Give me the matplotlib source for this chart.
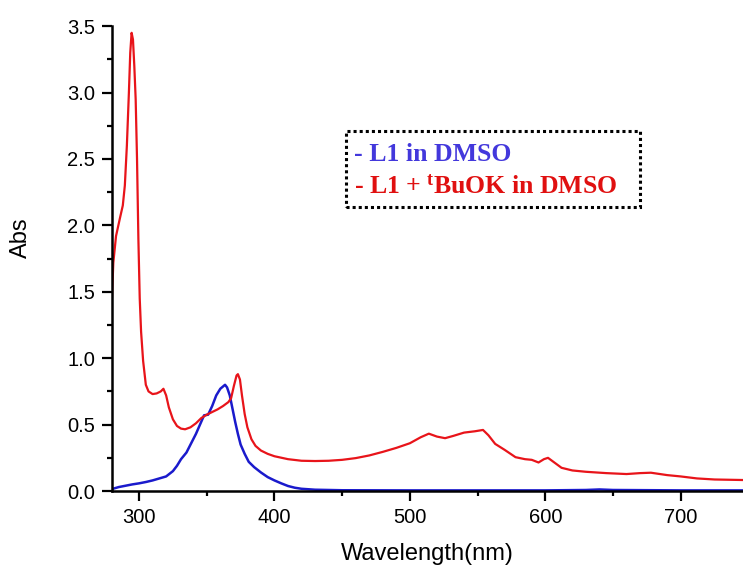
import matplotlib
matplotlib.use("Agg")
import matplotlib.pyplot as plt
from matplotlib.patches import Rectangle
from matplotlib.ticker import MultipleLocator, FormatStrFormatter

# L1 + tBuOK in DMSO (red)
red_wl = [280, 281, 283, 286, 288, 289.5, 291, 292.5, 293.5, 294.5, 295.5, 296.5,
          297.5, 298.5, 299.5, 300.5, 301.5, 303, 305, 307, 310, 313, 316, 318,
          320, 322, 325, 328, 331, 334, 338, 342, 346, 350, 354, 358, 362, 366,
          368, 370, 372, 373, 374.5, 376, 378, 380, 383, 386, 390, 395, 400, 410,
          420, 430, 440, 450, 460, 470, 480, 490, 500, 508, 514, 520, 526, 532,
          540, 548, 554, 558, 563, 570, 578, 585, 590, 595, 599, 602, 606, 612,
          620, 630, 645, 660, 670, 678, 690, 700, 712, 725, 746]
red_abs = [1.46, 1.72, 1.92, 2.06, 2.15, 2.30, 2.60, 3.00, 3.30, 3.45, 3.40, 3.20,
           2.95, 2.50, 1.90, 1.45, 1.20, 0.98, 0.80, 0.75, 0.73, 0.735, 0.75, 0.77,
           0.72, 0.63, 0.54, 0.49, 0.47, 0.465, 0.48, 0.51, 0.55, 0.575, 0.595, 0.615,
           0.64, 0.67, 0.70, 0.79, 0.87, 0.88, 0.84, 0.72, 0.58, 0.48, 0.39, 0.34,
           0.305, 0.28, 0.262, 0.24, 0.228, 0.226, 0.228, 0.235, 0.248, 0.268, 0.295,
           0.325, 0.36, 0.405, 0.432, 0.41, 0.398, 0.415, 0.44, 0.45, 0.46, 0.42,
           0.355, 0.31, 0.255, 0.24, 0.235, 0.215, 0.24, 0.25, 0.22, 0.175, 0.155,
           0.145, 0.135, 0.128, 0.135, 0.138, 0.12, 0.11, 0.095, 0.087, 0.083]

# L1 in DMSO (blue)
blue_wl = [280, 285, 290, 295, 300, 305, 310, 315, 320, 325, 328, 331, 335, 338,
           342, 345, 348, 351, 354, 357, 360, 363.5, 365, 367, 369, 371, 373, 375,
           378, 381, 385, 390, 395, 400, 405, 410, 415, 420, 430, 450, 500, 600,
           630, 640, 650, 700, 746]
blue_abs = [0.015, 0.03, 0.04, 0.05, 0.058, 0.068, 0.08, 0.095, 0.11, 0.15, 0.19,
            0.24, 0.29, 0.35, 0.43, 0.50, 0.57, 0.575, 0.64, 0.72, 0.77, 0.80, 0.78,
            0.72, 0.62, 0.52, 0.43, 0.35, 0.28, 0.22, 0.18, 0.14, 0.105, 0.08, 0.058,
            0.038, 0.025, 0.017, 0.01, 0.006, 0.005, 0.005, 0.008, 0.012, 0.008,
            0.005, 0.005]

plt.rcParams['font.family'] = 'Liberation Sans'
plt.rcParams['mathtext.fontset'] = 'custom'
plt.rcParams['mathtext.rm'] = 'Liberation Serif:bold'
plt.rcParams['mathtext.it'] = 'Liberation Serif:bold'
plt.rcParams['mathtext.bf'] = 'Liberation Serif:bold'

fig = plt.figure(figsize=(7.43, 5.69), dpi=100)
ax = fig.add_axes([0.1507, 0.137, 0.8493, 0.817])

ax.plot(blue_wl, blue_abs, color='#1a1acc', lw=1.8)
ax.plot(red_wl, red_abs, color='#e8141a', lw=1.6)

ax.set_xlim(280, 746)
ax.set_ylim(0, 3.5)
ax.spines['top'].set_visible(False)
ax.spines['right'].set_visible(False)
ax.spines['left'].set_linewidth(1.8)
ax.spines['bottom'].set_linewidth(1.8)

ax.xaxis.set_major_locator(MultipleLocator(100))
ax.xaxis.set_minor_locator(MultipleLocator(50))
ax.yaxis.set_major_locator(MultipleLocator(0.5))
ax.yaxis.set_minor_locator(MultipleLocator(0.25))
ax.yaxis.set_major_formatter(FormatStrFormatter('%.1f'))
ax.tick_params(which='major', direction='out', length=7, width=1.6, labelsize=14.5, pad=5)
ax.tick_params(which='minor', direction='out', length=3.5, width=1.6)

ax.set_xlabel('Wavelength(nm)', fontsize=17)
ax.set_ylabel('Abs', fontsize=17)
ax.xaxis.set_label_coords(0.5, -0.112)
ax.yaxis.set_label_coords(-0.127, 0.546)

# dotted box legend
box = Rectangle((0.371, 0.611), 0.466, 0.163, transform=ax.transAxes, fill=False,
                edgecolor='black', lw=2.2, linestyle=(0, (1, 1)), clip_on=False)
ax.add_patch(box)
ax.text(0.383, 0.723, '- L1 in DMSO', transform=ax.transAxes, color='#4338dc',
        fontsize=18.5, fontweight='bold', family='Liberation Serif', va='center')
ax.text(0.383, 0.655, r'- L1 + $^{t}$BuOK in DMSO', transform=ax.transAxes,
        color='#e01010', fontsize=18.5, fontweight='bold', family='Liberation Serif',
        va='center')

fig.savefig('out.png', dpi=100)
